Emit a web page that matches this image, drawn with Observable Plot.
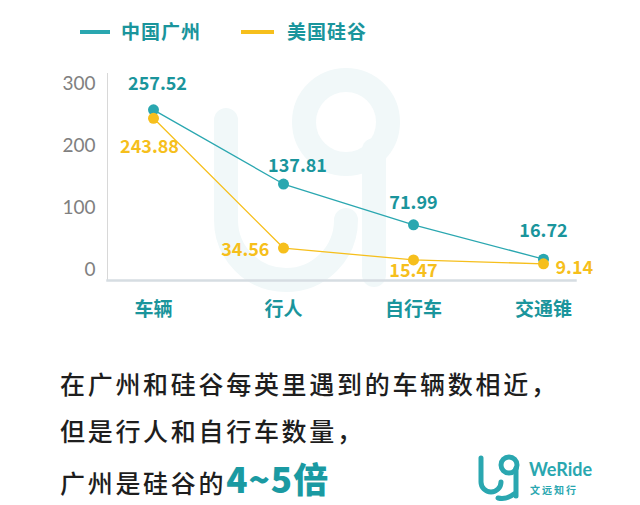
<!DOCTYPE html>
<html><head><meta charset="utf-8">
<script src="https://cdn.jsdelivr.net/npm/d3@7"></script>
<script src="https://cdn.jsdelivr.net/npm/@observablehq/plot@0.6"></script>
<style>
body{margin:0;background:#fff;font-family:"Noto Sans CJK SC","Noto Sans",sans-serif;}
#wrap{position:relative;width:640px;height:505px;overflow:hidden;}
.abs{position:absolute;}
.leg{font-size:19px;font-weight:700;color:#1a959c;line-height:22px;letter-spacing:1px;}
.cap{font-size:25px;color:#1e1e1e;line-height:47px;letter-spacing:2.7px;font-weight:500;}
</style></head>
<body><div id="wrap">
<svg class="abs" style="left:0;top:0" width="640" height="505">
  <g fill="none" stroke="#f1f8f9" stroke-width="24" stroke-linecap="round">
    <path d="M226 120 V220 A60 60 0 0 0 346 220"/>
    <circle cx="346" cy="122" r="42"/>
    <path d="M374 150 V275"/>
  </g>
</svg>
<div class="abs" style="left:80px;top:30px;width:30px;height:4px;background:#2aa7b0"></div>
<div class="abs leg" style="left:121px;top:20px">中国广州</div>
<div class="abs" style="left:241px;top:30px;width:33px;height:4px;background:#f6bf1c"></div>
<div class="abs leg" style="left:287px;top:20px">美国硅谷</div>
<div id="chart" class="abs" style="left:0;top:60px"></div>
<div class="abs cap" style="left:60px;top:360px">在广州和硅谷每英里遇到的车辆数相近，<br>但是行人和自行车数量，<br>广州是硅谷的<span style="color:#1a9aa2;font-weight:900;font-size:35px;letter-spacing:1px">4~5倍</span></div>
<svg class="abs" style="left:476px;top:452px" width="50" height="50">
  <g fill="none" stroke="#2aa7b0" stroke-width="5" stroke-linecap="round">
    <path d="M5 6 V30 A10 10 0 0 0 25 30"/>
    <circle cx="33" cy="13" r="8"/>
    <path d="M40 16 V44"/>
    <path d="M22 46 Q30 48 38 42"/>
  </g>
</svg>
<div class="abs" style="left:529px;top:458px;font-family:Lato,sans-serif;font-weight:700;font-size:18px;color:#2aa7b0">WeRide</div>
<div class="abs" style="left:530px;top:482px;font-size:10px;font-weight:700;color:#2aa7b0;letter-spacing:2px">文远知行</div>
</div>
<script>
const categories = ["车辆", "行人", "自行车", "交通锥"];
const guangzhou = [257.52, 137.81, 71.99, 16.72];
const siliconValley = [243.88, 34.56, 15.47, 9.14];
const seriesNames = ["中国广州", "美国硅谷"];
const yTicks = [0, 100, 200, 300];

const teal = "#2aa7b0", tealText = "#1a959c", yellow = "#f6bf1c";
const gz = categories.map((c, i) => ({cat: c, v: guangzhou[i], s: seriesNames[0]}));
const sv = categories.map((c, i) => ({cat: c, v: siliconValley[i], s: seriesNames[1]}));

// label placements (dx, dy, anchor) per point
const gzPlace = [[4, -26, "middle"], [14, -18, "middle"], [0, -22, "middle"], [0, -28, "middle"]];
const svPlace = [[-4, 29, "middle"], [-14, 2, "end"], [0, 11, "middle"], [12, 4, "start"]];
const font = "'Noto Sans CJK SC', sans-serif";

function labels(data, place, color) {
  return data.map((d, i) => Plot.text([d], {
    x: "cat", y: "v", text: d => d.v.toFixed(2),
    dx: place[i][0], dy: place[i][1], textAnchor: place[i][2],
    fill: color, fontSize: 18, fontWeight: 700, fontFamily: font
  }));
}

const chart = Plot.plot({
  width: 640, height: 280,
  marginLeft: 107, marginRight: 65, marginTop: 13, marginBottom: 60,
  style: {background: "transparent", fontFamily: font},
  x: {type: "point", domain: categories, range: [152, 543], padding: 0, label: null},
  y: {domain: [0, 300], range: [209, 23], label: null},
  marks: [
    Plot.frame({anchor: "left", stroke: "#d8d8d8", strokeWidth: 1}),
    Plot.frame({anchor: "bottom", stroke: "#d6dde2", strokeWidth: 2.5}),
    Plot.axisY({ticks: yTicks, tickSize: 0, tickPadding: 12, fontSize: 19, fill: "#808080", label: null, fontFamily: "Lato, sans-serif"}),
    Plot.axisX({tickSize: 0, tickPadding: 22, fontSize: 19, fontWeight: 700, fill: tealText, label: null}),
    Plot.line(gz, {x: "cat", y: "v", stroke: teal, strokeWidth: 1.3}),
    Plot.line(sv, {x: "cat", y: "v", stroke: yellow, strokeWidth: 1.3}),
    Plot.dot(gz, {x: "cat", y: "v", r: 5.5, fill: teal}),
    Plot.dot(sv, {x: "cat", y: "v", r: 5.5, fill: yellow}),
    ...labels(gz, gzPlace, tealText),
    ...labels(sv, svPlace, yellow)
  ]
});
document.getElementById("chart").appendChild(chart);
</script>
</body></html>
